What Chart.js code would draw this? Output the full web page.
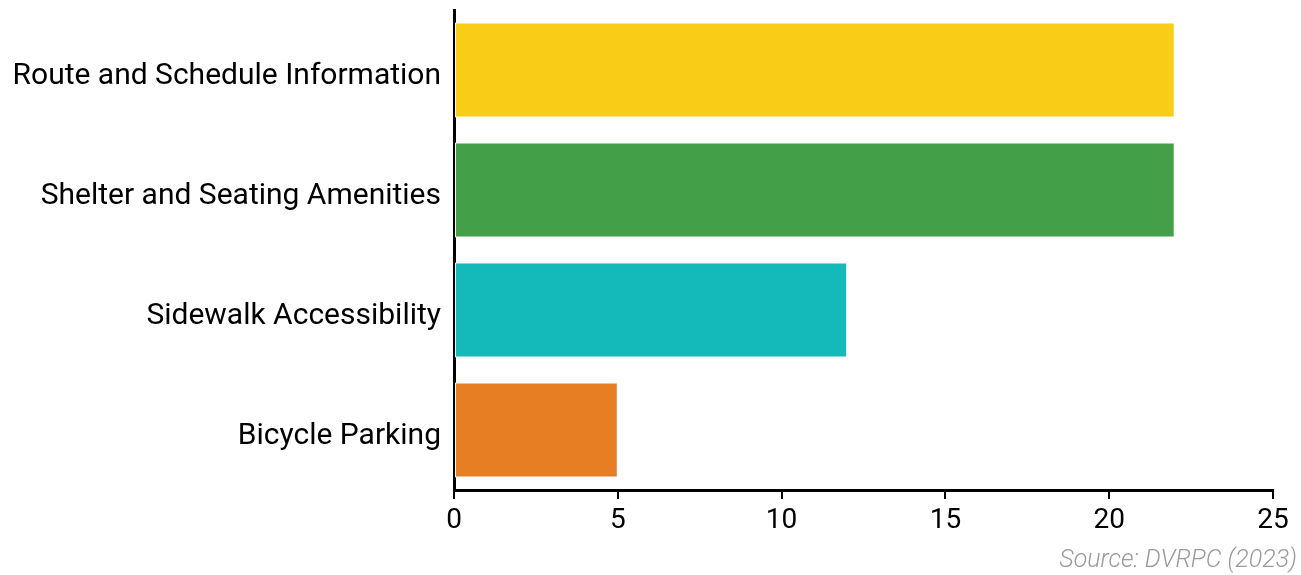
<!DOCTYPE html>
<html>
<head>
<meta charset="utf-8">
<script src="https://cdn.jsdelivr.net/npm/chart.js@4/dist/chart.umd.min.js"></script>
<style>
  html, body { margin: 0; padding: 0; background: #fff; }
  #wrap { position: relative; width: 1301px; height: 575px; }
  #source { position: absolute; right: 4px; top: 544px; font-family: Roboto, sans-serif; font-style: italic; font-weight: 300; font-size: 25px; color: #9a9a9a; }
</style>
</head>
<body>
<div id="wrap">
  <canvas id="c" width="1301" height="575"></canvas>
  <div id="source">Source: DVRPC (2023)</div>
</div>
<script>
const categories = ["Route and Schedule Information", "Shelter and Seating Amenities", "Sidewalk Accessibility", "Bicycle Parking"];
const values = [22, 22, 12, 5];
const barColors = ["#F9CC17", "#43A048", "#14B9B9", "#E77E24"];
const xTicks = [0, 5, 10, 15, 20, 25];

new Chart(document.getElementById('c'), {
  type: 'bar',
  data: {
    labels: categories,
    datasets: [{
      data: values,
      backgroundColor: barColors,
      borderColor: '#ffffff',
      borderWidth: 1,
      borderSkipped: false,
      barPercentage: 0.79,
      categoryPercentage: 1.0
    }]
  },
  options: {
    indexAxis: 'y',
    responsive: false,
    animation: false,
    layout: { padding: { top: 10, right: 28, left: 0, bottom: 0 } },
    plugins: { legend: { display: false }, tooltip: { enabled: false } },
    scales: {
      x: {
        min: 0, max: 25,
        afterBuildTicks: (s) => { s.ticks = xTicks.map(v => ({ value: v })); },
        afterFit: (s) => { s.height = 85; s.paddingLeft = 0; s.paddingRight = 0; },
        grid: { display: true, drawOnChartArea: false, drawTicks: true, tickLength: 9, color: '#000', lineWidth: 2 },
        border: { display: true, color: '#000', width: 3 },
        ticks: { color: '#000', font: { family: 'Roboto', size: 28 }, padding: 5 }
      },
      y: {
        afterFit: (s) => { s.width = 454; s.paddingTop = 0; s.paddingBottom = 0; },
        grid: { display: false },
        border: { display: true, color: '#000', width: 3 },
        ticks: { color: '#000', font: { family: 'Roboto', size: 30 }, padding: 5, labelOffset: 6 }
      }
    }
  }
});
</script>
</body>
</html>
